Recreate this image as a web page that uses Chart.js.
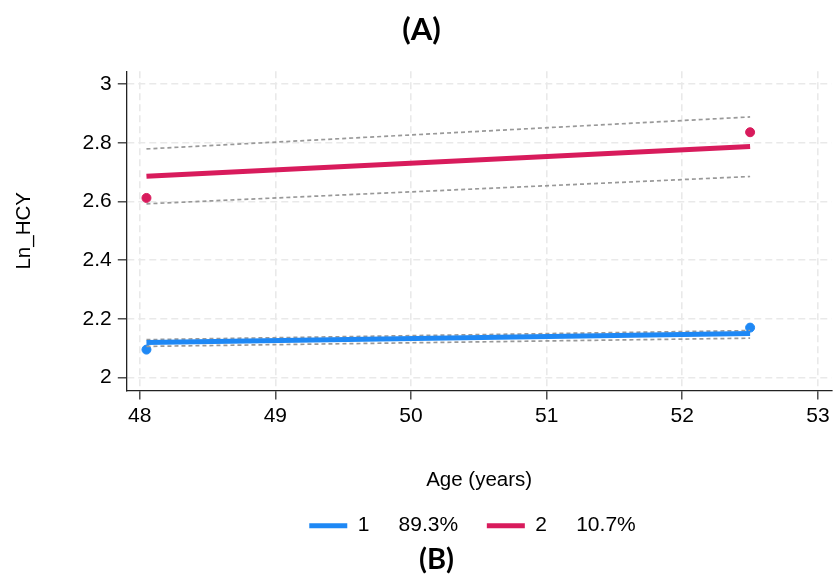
<!DOCTYPE html>
<html>
<head>
<meta charset="utf-8">
<script src="https://cdn.jsdelivr.net/npm/chart.js@4/dist/chart.umd.min.js"></script>
<style>
    html, body { margin: 0; padding: 0; background: #fff; }
    #chart { display: block; }
</style>
</head>
<body>
<canvas id="chart" width="837" height="577"></canvas>
<script>
// age (years) at the two measurement waves
const ages = [48.05, 52.5];

// class 1 (89.3%)
const class1Observed = [2.095, 2.170];
const class1Fitted = [2.119, 2.150];
const class1Upper = [2.129, 2.160];
const class1Lower = [2.106, 2.134];

// class 2 (10.7%)
const class2Observed = [2.612, 2.836];
const class2Fitted = [2.686, 2.787];
const class2Upper = [2.779, 2.888];
const class2Lower = [2.592, 2.685];

const classLabels = ['1     89.3%  ', '2     10.7%'];
const yTicks = [2, 2.2, 2.4, 2.6, 2.8, 3];

const blue = '#1e88f5';
const red = '#d81b5c';
const ciGrey = '#999999';

const toPoints = (ys) => ys.map((y, i) => ({ x: ages[i], y: y }));

const ctx = document.getElementById('chart');

const ciLine = (ys) => ({
    type: 'line',
    data: toPoints(ys),
    borderColor: ciGrey,
    borderWidth: 1.7,
    borderDash: [4, 3],
    pointRadius: 0,
    fill: false
});

const tickFont = { family: 'Liberation Sans', size: 21 };
const titleFont = { family: 'Liberation Sans', size: 20.5 };

// the heading, legend and panel label are not centred on the canvas in the original
const shiftBlocks = {
    id: 'shiftBlocks',
    afterLayout(chart) {
        if (chart.titleBlock) chart.titleBlock.left += 6;
        if (chart.legend) {
            chart.legend.left += 108;
            chart.legend.top += 4;
        }
        const sub = chart.boxes.find(b => b !== chart.titleBlock && b.options && b.options.text === '(B)');
        if (sub) sub.left += 36;
    }
};

const chart = new Chart(ctx, {
    type: 'line',
    data: {
        datasets: [
            {
                label: classLabels[0],
                data: toPoints(class1Fitted),
                borderColor: blue,
                backgroundColor: blue,
                borderWidth: 5,
                pointRadius: 0,
                fill: false
            },
            {
                label: classLabels[1],
                data: toPoints(class2Fitted),
                borderColor: red,
                backgroundColor: red,
                borderWidth: 5,
                pointRadius: 0,
                fill: false
            },
            ciLine(class1Upper),
            ciLine(class1Lower),
            ciLine(class2Upper),
            ciLine(class2Lower),
            {
                type: 'scatter',
                data: toPoints(class1Observed),
                backgroundColor: blue,
                borderColor: blue,
                pointRadius: 4.5,
                showLine: false
            },
            {
                type: 'scatter',
                data: toPoints(class2Observed),
                backgroundColor: red,
                borderColor: red,
                pointRadius: 4.5,
                showLine: false
            }
        ]
    },
    plugins: [shiftBlocks],
    options: {
        responsive: false,
        animation: false,
        layout: {
            padding: { left: 0, right: 0, top: 0, bottom: 0 }
        },
        plugins: {
            tooltip: { enabled: false },
            title: {
                display: true,
                text: '(A)',
                color: '#000',
                font: { family: 'Lato', size: 31, weight: 'bold' },
                padding: { top: 11, bottom: 23 }
            },
            subtitle: {
                display: true,
                position: 'bottom',
                text: '(B)',
                color: '#000',
                font: { family: 'Lato', size: 29, weight: 'bold' },
                padding: { top: 0, bottom: 0 }
            },
            legend: {
                position: 'bottom',
                labels: {
                    color: '#000',
                    font: tickFont,
                    boxWidth: 38,
                    boxHeight: 5,
                    padding: 17,
                    filter: (item) => item.datasetIndex < 2,
                    generateLabels: (c) => classLabels.map((text, i) => ({
                        text: text,
                        fillStyle: i === 0 ? blue : red,
                        strokeStyle: i === 0 ? blue : red,
                        lineWidth: 0,
                        datasetIndex: i
                    }))
                }
            }
        },
        scales: {
            x: {
                type: 'linear',
                min: 47.905,
                max: 53.1,
                ticks: {
                    stepSize: 1,
                    includeBounds: false,
                    color: '#000',
                    font: tickFont,
                    padding: 4,
                    maxRotation: 0
                },
                grid: {
                    color: '#e9e9e9',
                    lineWidth: 1.6,
                    tickColor: '#333',
                    tickWidth: 1.3,
                    tickLength: 9
                },
                border: { color: '#222', width: 1.3, dash: [7, 4] },
                title: {
                    display: true,
                    text: 'Age (years)',
                    color: '#000',
                    font: titleFont,
                    padding: { top: 35, bottom: 2 }
                }
            },
            y: {
                type: 'linear',
                min: 1.956,
                max: 3.044,
                afterBuildTicks: (scale) => {
                    scale.ticks = yTicks.map(v => ({ value: v }));
                },
                ticks: {
                    color: '#000',
                    font: tickFont,
                    padding: 6,
                    callback: (v) => String(Math.round(v * 10) / 10)
                },
                grid: {
                    color: '#e9e9e9',
                    lineWidth: 1.6,
                    tickColor: '#333',
                    tickWidth: 1.3,
                    tickLength: 9
                },
                border: { color: '#222', width: 1.3, dash: [7, 4] },
                title: {
                    display: true,
                    text: 'Ln_HCY',
                    color: '#000',
                    font: titleFont,
                    padding: { top: 12, bottom: 40 }
                }
            }
        }
    }
});
</script>
</body>
</html>
